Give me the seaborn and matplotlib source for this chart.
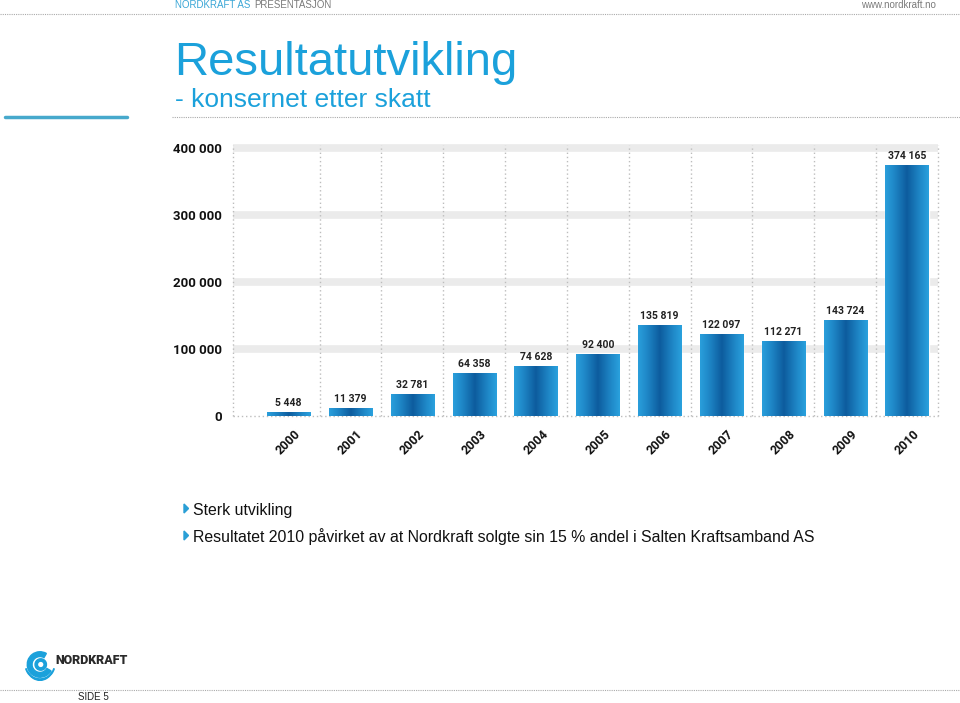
import numpy as np
import matplotlib
matplotlib.use("Agg")
import matplotlib.pyplot as plt
from matplotlib.lines import Line2D
from matplotlib.patches import Circle, Wedge, Polygon, Arc
from matplotlib.colors import LinearSegmentedColormap
import seaborn as sns

years = ["2000", "2001", "2002", "2003", "2004", "2005", "2006", "2007", "2008", "2009", "2010"]
values = [5448, 11379, 32781, 64358, 74628, 92400, 135819, 122097, 112271, 143724, 374165]
ytick_vals = [0, 100000, 200000, 300000, 400000]
ytick_labels = ["0", "100 000", "200 000", "300 000", "400 000"]
bullets = ["Sterk utvikling",
           "Resultatet 2010 påvirket av at Nordkraft solgte sin 15 % andel i Salten Kraftsamband AS"]

sns.set_theme(style="white")
plt.rcParams["font.family"] = ["Roboto", "DejaVu Sans"]

W, H = 960, 703
fig = plt.figure(figsize=(W / 100, H / 100), dpi=100)
fig.patch.set_facecolor("white")

def fx(x):
    return x / W

def fy(y):
    return 1 - y / H

BLUE = "#1ba1db"

# chart axes
ax_left, ax_right = 233, 938
y0_px, ytop = 416, 410000
px_per_unit = 67 / 100000
ytop_px = y0_px - ytop * px_per_unit
ax = fig.add_axes([fx(ax_left), fy(y0_px), (ax_right - ax_left) / W, (y0_px - ytop_px) / H])
ax.set_facecolor("white")

sns.barplot(x=years, y=values, color=BLUE, width=0.7, ax=ax, zorder=3)

ax.set_xlim(-0.9, 10.5)
ax.set_ylim(0, ytop)

# gradient fill on each bar
cmap = LinearSegmentedColormap.from_list(
    "bar", [(0.0, "#2a9fdc"), (0.2, "#1f88c8"), (0.5, "#0d5c9e"), (0.8, "#1f88c8"), (1.0, "#2aa2de")])
grad = np.linspace(0, 1, 256).reshape(1, -1)
for p in ax.patches:
    x0, y0b = p.get_x(), p.get_y()
    w, h = p.get_width(), p.get_height()
    im = ax.imshow(grad, cmap=cmap, aspect="auto", extent=(x0, x0 + w, y0b, y0b + h),
                   zorder=4, interpolation="bilinear")
    im.set_clip_path(p)
ax.set_xlim(-0.9, 10.5)
ax.set_ylim(0, ytop)

# value labels
lbls = [f"{v:,}".replace(",", " ") for v in values]
ax.bar_label(ax.containers[0], labels=lbls, padding=3, fontsize=7.5, fontweight="bold",
             color="#222222", zorder=6)

# horizontal bands
for t in ytick_vals[1:]:
    ax.axhline(t, color="#ebebeb", lw=5.5, zorder=0)
# vertical dotted separators
seps = [k + 0.5 for k in range(len(years) - 1)] + [-0.9, 10.5]
ax.vlines(seps, 0, 405000, colors="#bdbdbd", linestyles=(0, (1, 2)), lw=1, zorder=1, clip_on=False)
ax.axhline(0, color="#bdbdbd", ls=(0, (1, 2)), lw=1, zorder=2, clip_on=False)

ax.set_yticks(ytick_vals)
ax.set_yticklabels(ytick_labels, fontsize=9.5, fontweight="bold", color="#111111")
ax.tick_params(axis="y", length=0, pad=8)
ax.tick_params(axis="x", length=0, pad=8)
for lab in ax.get_xticklabels():
    lab.set_rotation(45)
    lab.set_ha("center")
    lab.set_fontsize(9)
    lab.set_fontweight("bold")
    lab.set_color("#111111")
ax.set_xlabel("")
ax.set_ylabel("")
for s in ax.spines.values():
    s.set_visible(False)
ax.grid(False)

# header
renderer = fig.canvas.get_renderer()
t1 = fig.text(fx(175), fy(5), "NORDKRAFT AS", fontsize=7, color="#3aa6d6", va="center", ha="left",
              family="Liberation Sans")
bb = t1.get_window_extent(renderer=renderer)
fig.text((bb.x1 + 4) / W, fy(5), "PRESENTASJON", fontsize=7, color="#7a7a7a", va="center",
         ha="left", family="Liberation Sans")
fig.text(fx(936), fy(5), "www.nordkraft.no", fontsize=7, color="#7a7a7a", va="center", ha="right",
         family="Liberation Sans")
fig.add_artist(Line2D([0, 1], [fy(14), fy(14)], transform=fig.transFigure, color="#aaaaaa",
                      lw=0.8, ls=(0, (1, 1))))

# title
fig.text(fx(174), fy(75), "Resultatutvikling", fontsize=34, color=BLUE, va="baseline", ha="left",
         family="Liberation Sans")
fig.text(fx(175), fy(107), "- konsernet etter skatt", fontsize=19, color=BLUE, va="baseline",
         ha="left", family="Liberation Sans")
fig.add_artist(Line2D([fx(5), fx(127)], [fy(117), fy(117)], transform=fig.transFigure,
                      color="#47a9cc", lw=2.5))
fig.add_artist(Line2D([fx(172), 1], [fy(117), fy(117)], transform=fig.transFigure, color="#aaaaaa",
                      lw=0.8, ls=(0, (1, 1))))

# bullets
for i, (txt, yb) in enumerate(zip(bullets, [515, 542])):
    tri = Polygon([[fx(184), fy(yb - 11)], [fx(184), fy(yb - 2)], [fx(188.5), fy(yb - 6.5)]],
                  closed=True, transform=fig.transFigure, color="#2a9fd6")
    fig.add_artist(tri)
    fig.text(fx(193), fy(yb), txt, fontsize=11.45, color="#111111", va="baseline", ha="left",
             family="Liberation Sans")

# logo
lax = fig.add_axes([fx(25), fy(681), 30 / W, 30 / H])
lax.set_xlim(-1, 1)
lax.set_ylim(-1, 1)
lax.set_aspect("equal")
lax.axis("off")
lax.add_patch(Wedge((0, 0.1), 0.85, 60, 330, width=0.32, color=BLUE))
lax.add_patch(Wedge((0.05, 0.1), 0.38, 0, 360, width=0.16, color=BLUE))
lax.add_patch(Arc((0, 0.1), 1.95, 1.95, theta1=195, theta2=345, color=BLUE, lw=1.4))
lax.add_patch(Arc((0, 0.2), 1.9, 2.3, theta1=215, theta2=325, color=BLUE, lw=1.2))
fig.text(fx(55), fy(661), "NORDKRAFT", fontsize=9, fontweight="black", color="#2a2a2a",
         va="center", ha="left")

# footer
fig.add_artist(Line2D([0, 1], [fy(690), fy(690)], transform=fig.transFigure, color="#aaaaaa",
                      lw=0.8, ls=(0, (1, 1))))
fig.text(fx(78), fy(697), "SIDE 5", fontsize=7, color="#222222", va="center", ha="left",
         family="Liberation Sans")

fig.savefig("out.png", dpi=100, facecolor="white")
